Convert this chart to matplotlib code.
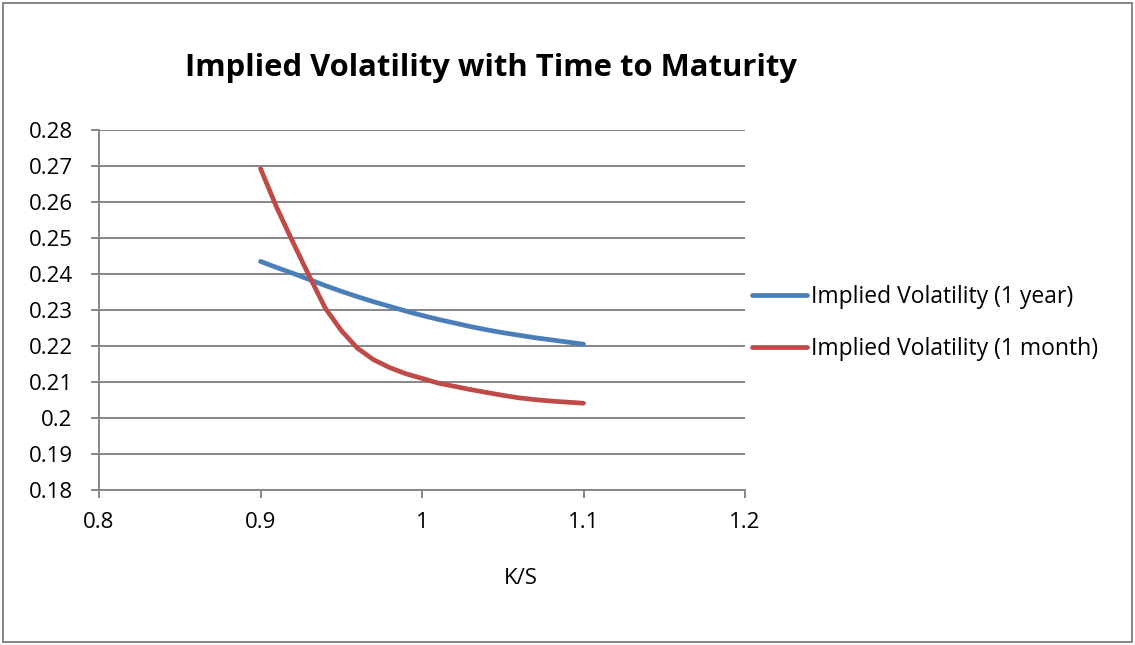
import numpy as np
import matplotlib.pyplot as plt
from matplotlib.patches import Rectangle

# K/S values
ks = [0.90, 0.91, 0.92, 0.93, 0.94, 0.95, 0.96, 0.97, 0.98, 0.99, 1.00,
      1.01, 1.02, 1.03, 1.04, 1.05, 1.06, 1.07, 1.08, 1.09, 1.10]

iv_1year = [0.2435, 0.2418, 0.2402, 0.2385, 0.2368, 0.2352, 0.2337, 0.2323, 0.2310, 0.2297, 0.2285,
            0.2274, 0.2264, 0.2254, 0.2245, 0.2237, 0.2230, 0.2223, 0.2217, 0.2211, 0.2205]

iv_1month = [0.2693, 0.2585, 0.2489, 0.2396, 0.2306, 0.2243, 0.2194, 0.2162, 0.2140, 0.2123, 0.2110,
             0.2097, 0.2088, 0.2079, 0.2071, 0.2063, 0.2056, 0.2051, 0.2047, 0.2044, 0.2041]

xticks = [0.8, 0.9, 1.0, 1.1, 1.2]
xticklabels = ['0.8', '0.9', '1', '1.1', '1.2']
yticks = [0.18, 0.19, 0.2, 0.21, 0.22, 0.23, 0.24, 0.25, 0.26, 0.27, 0.28]
yticklabels = ['0.18', '0.19', '0.2', '0.21', '0.22', '0.23', '0.24', '0.25', '0.26', '0.27', '0.28']

plt.rcParams['font.family'] = ['Open Sans', 'DejaVu Sans']

fig = plt.figure(figsize=(11.35, 6.45), dpi=100)
ax = fig.add_axes([99/1135, 1 - 490/645, (745 - 99)/1135, (490 - 130)/645])

grid_col = '#868686'
ax.plot(ks, iv_1year, color='#4A7EBB', lw=3.4, solid_capstyle='round', solid_joinstyle='round',
        label='Implied Volatility (1 year)')
ax.plot(ks, iv_1month, color='#BE4B48', lw=3.4, solid_capstyle='round', solid_joinstyle='round',
        label='Implied Volatility (1 month)')

ax.set_xlim(0.8, 1.2)
ax.set_ylim(0.18, 0.28)
ax.set_xticks(xticks)
ax.set_xticklabels(xticklabels)
ax.set_yticks(yticks)
ax.set_yticklabels(yticklabels)
ax.yaxis.grid(True, color=grid_col, lw=1.4)
ax.set_axisbelow(True)
for s in ['top', 'right']:
    ax.spines[s].set_visible(False)
for s in ['left', 'bottom']:
    ax.spines[s].set_color(grid_col)
    ax.spines[s].set_linewidth(1.4)
ax.tick_params(axis='both', colors=grid_col, length=6, width=1.4, labelsize=16, labelcolor='black')
ax.tick_params(axis='y', pad=13)
ax.tick_params(axis='x', pad=10)

fig.text(491/1135, 1 - 68/645, 'Implied Volatility with Time to Maturity',
         ha='center', va='center', fontsize=22.3, fontweight='bold')
fig.text(521/1135, 1 - 578/645, 'K/S', ha='center', va='center', fontsize=16)

ax.legend(loc='center left', bbox_to_anchor=(752/1135, 1 - 323/645), bbox_transform=fig.transFigure,
          frameon=False, fontsize=16.5, handlelength=2.4, handletextpad=0.18, labelspacing=1.2,
          borderaxespad=0, borderpad=0)

fig.patches.append(Rectangle((3/1135, 3/645), 1 - 6/1135, 1 - 6/645, transform=fig.transFigure,
                             fill=False, edgecolor=grid_col, lw=1.4))

fig.savefig('out.png', dpi=100)
